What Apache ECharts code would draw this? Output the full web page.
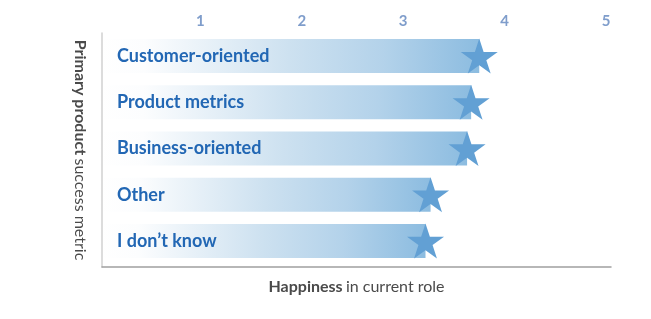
<!DOCTYPE html>
<html>
<head>
<meta charset="utf-8">
<script src="https://cdn.jsdelivr.net/npm/echarts@6/dist/echarts.min.js"></script>
<style>html,body{margin:0;padding:0;background:#fff}#c{width:651px;height:319px}</style>
</head>
<body>
<div id="c"></div>
<script>
const categories = ['Customer-oriented', 'Product metrics', 'Business-oriented', 'Other', 'I don\u2019t know'];
const happiness = [3.75, 3.67, 3.63, 3.27, 3.22];
const tickValues = [1, 2, 3, 4, 5];

const STAR = 'path://M0,-1 L0.2245,-0.309 L0.951,-0.309 L0.3633,0.118 L0.5878,0.809 L0,0.382 L-0.5878,0.809 L-0.3633,0.118 L-0.951,-0.309 L-0.2245,-0.309 Z';
const FONT = 'Lato';

const chart = echarts.init(document.getElementById('c'), null, {renderer: 'canvas'});
chart.setOption({
  animation: false,
  backgroundColor: '#ffffff',
  grid: [
    {left: 99, right: 45, top: 33, bottom: 55},
    {left: 102, right: 40, top: 33, bottom: 52}
  ],
  xAxis: [
    {
      gridIndex: 0, type: 'value', position: 'top', min: 0, max: 5, interval: 1,
      axisLine: {show: false}, axisTick: {show: false}, splitLine: {show: false},
      axisLabel: {
        margin: 4, color: '#7f9dcb', fontFamily: FONT, fontWeight: 'bold', fontSize: 15,
        formatter: v => tickValues.indexOf(v) >= 0 ? String(v) : ''
      }
    },
    {
      gridIndex: 1, type: 'value', position: 'bottom', min: 0, max: 5, z: 5,
      axisLine: {show: true, lineStyle: {color: '#a0a0a0', width: 1.5}},
      axisTick: {show: false}, axisLabel: {show: false}, splitLine: {show: false},
      name: '{b|Happiness} {n|in current role}', nameLocation: 'middle', nameGap: 12,
      nameTextStyle: {
        rich: {
          b: {fontFamily: FONT, fontWeight: 'bold', fontSize: 16, color: '#4a4a4a'},
          n: {fontFamily: FONT, fontSize: 16, color: '#4a4a4a'}
        }
      }
    }
  ],
  yAxis: [
    {
      gridIndex: 0, type: 'category', data: categories, inverse: true,
      axisLine: {show: false}, axisTick: {show: false}, axisLabel: {show: false}
    },
    {
      gridIndex: 1, type: 'value', min: 0, max: 1, z: 5,
      axisLine: {show: true, lineStyle: {color: '#d0d0d0', width: 1.5}},
      axisTick: {show: false}, axisLabel: {show: false}, splitLine: {show: false},
      name: '{b|Primary product} {n|success metric}', nameLocation: 'middle', nameGap: 14, nameRotate: -90,
      nameTextStyle: {
        rich: {
          b: {fontFamily: FONT, fontWeight: 'bold', fontSize: 16, color: '#4a4a4a'},
          n: {fontFamily: FONT, fontSize: 16, color: '#4a4a4a'}
        }
      }
    }
  ],
  series: [
    {
      type: 'bar', xAxisIndex: 0, yAxisIndex: 0, data: happiness, barWidth: 34,
      itemStyle: {
        color: {
          type: 'linear', x: 0, y: 0, x2: 1, y2: 0,
          colorStops: [
            {offset: 0, color: '#ffffff'},
            {offset: 0.12, color: '#fcfdfe'},
            {offset: 0.5, color: '#cde1f0'},
            {offset: 0.75, color: '#b3d2ea'},
            {offset: 1, color: '#8cbce0'}
          ]
        }
      },
      label: {
        show: true, position: 'insideLeft', distance: 18,
        formatter: p => categories[p.dataIndex],
        fontFamily: FONT, fontWeight: 'bold', fontSize: 18, color: '#2267b4'
      },
      z: 2
    },
    {
      type: 'scatter', xAxisIndex: 0, yAxisIndex: 0, data: happiness,
      symbol: STAR, symbolSize: [37, 35],
      itemStyle: {color: '#62a0d4', opacity: 1},
      z: 3
    }
  ]
});
</script>
</body>
</html>
